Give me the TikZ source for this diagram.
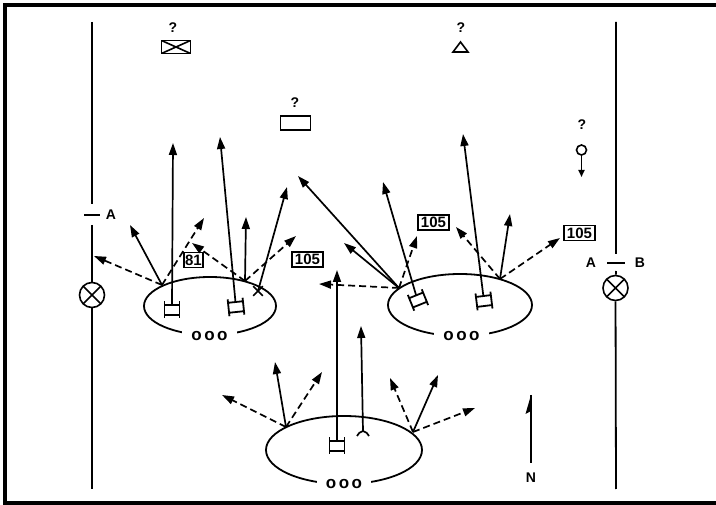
\documentclass[tikz,border=0pt]{standalone}
\usepackage{fontspec}
\setsansfont{Liberation Sans}
\usepackage{tikz}
\usetikzlibrary{calc,shapes,arrows.meta}
\tikzset{fire/.style={line width=1.7pt, -{Triangle[length=12pt,width=8pt]}},
firedash/.style={fire, dash pattern=on 7pt off 4pt},
lbl/.style={font=\sffamily\bfseries\fontsize{14}{14}\selectfont, inner sep=0pt},
calbox/.style={draw, line width=1.4pt, font=\sffamily\bfseries\fontsize{15}{15}\selectfont, inner sep=0pt, minimum height=15pt},
ooo/.style={fill=white, inner xsep=9pt, inner ysep=1pt, font=\sffamily\bfseries\fontsize{17}{17}\selectfont},
crossbox/.style={draw, line width=1.6pt, inner sep=0pt, path picture={\draw[line width=1.6pt] (path picture bounding box.north west) -- (path picture bounding box.south east) (path picture bounding box.south west) -- (path picture bounding box.north east);}},
xcircle/.style={circle, crossbox, minimum size=25pt},
tank/.pic={\draw[line width=1.8pt] (-7.5,-8.5) -- (-7.5,8.5) (7.5,-8.5) -- (7.5,8.5) (-7.5,-5) -- (7.5,-5) (-7.5,5) -- (7.5,5);
  \coordinate (-top) at (0,-5);},
fork/.pic={\draw[line width=1.7pt] (-6,5) to[bend left=25] (0,0) to[bend left=25] (6,5);
  \coordinate (-top) at (0,0);}}
\begin{document}
\begin{tikzpicture}[x=1pt,y=-1pt]
        \useasboundingbox (0,0) rectangle (716,505);
        \fill[white] (0,0) rectangle (716,505);
        \draw[line width=3.5pt] (716,5) -- (5,5) -- (5,503) -- (716,503);
        % phase lines
        \node[xcircle] (cpa) at (92,295) {};
        \node[xcircle] (cpb) at (615.5,288) {};
        \coordinate (la1) at (92,22); \coordinate (la2) at (92,204);
        \coordinate (la3) at (92,225); \coordinate (la4) at (92,489);
        \draw[line width=1.8pt] (la1) -- (la2) (la3) -- (cpa) (cpa) -- (la4);
        \draw[line width=1.8pt] (84,215) -- (100,215);
        \node[lbl] (plA) at (111,215) {A};
        \coordinate (lb1) at (616,22); \coordinate (lb2) at (616,254);
        \coordinate (lb3) at (616,271); \coordinate (lb4) at (616,489);
        \draw[line width=1.8pt] (lb1) -- (lb2) (lb3) -- (cpb) (cpb) -- (lb4);
        \draw[line width=1.8pt] (607,263) -- (625,263);
        \node[lbl] (plA2) at (591,263) {A};
        \node[lbl] (plB) at (640,263) {B};
        % suspected targets
        \node[lbl] (q1) at (173,28) {?};
        \node[crossbox, minimum width=29pt, minimum height=13pt] (hq) at (176,47) {};
        \node[lbl] (q2) at (295,103) {?};
        \node[draw, line width=1.6pt, minimum width=30pt, minimum height=14pt] (unit) at (295.5,123) {};
        \node[lbl] (q3) at (461,28) {?};
        \draw[line width=1.6pt] (453,52) -- (468,52) -- (460.5,42) -- cycle;
        \node[lbl] (q4) at (582,125) {?};
        \node[draw, circle, line width=1.6pt, minimum size=10pt, inner sep=0pt] (pin) at (581.5,150) {};
        \coordinate (pint) at (581.5,177);
        \draw[line width=1.6pt, -{Triangle[length=7pt,width=6pt]}] (pin) -- (pint);
        % left position
        \node[draw, ellipse, line width=1.8pt, minimum width=132pt, minimum height=58pt] (le) at (210,306) {};
        \node[ooo] (lo) at (209.5,336) {o\kern2.5pt o\kern2.5pt o};
        \coordinate (l1) at (162,285); \coordinate (l2) at (245,281);
        \coordinate (l1a) at (94,256); \coordinate (l1b) at (130,225); \coordinate (l1c) at (204,218);
        \coordinate (l2a) at (192,243); \coordinate (l2b) at (246,217); \coordinate (l2c) at (296,236);
        \draw[firedash] (l1) -- (l1a);
        \draw[fire] (l1) -- (l1b);
        \draw[firedash] (l1) -- (l1c);
        \draw[firedash] (l2) -- (l2a);
        \draw[fire] (l2) -- (l2b);
        \draw[firedash] (l2) -- (l2c);
        \pic (ta) at (172,310) {tank};
        \pic[rotate=6] (tb) at (236,307) {tank};
        \coordinate (tat) at (173,143); \coordinate (tbt) at (220,137);
        \draw[fire] (ta-top) -- (tat);
        \draw[fire] (tb-top) -- (tbt);
        \node[cross out, draw, line width=1.6pt, minimum size=8pt, inner sep=0pt] (lx) at (258,291) {};
        \coordinate (lxt) at (287,187);
        \draw[fire] (lx.center) -- (lxt);
        \node[calbox, minimum width=19pt] (c81) at (193.5,260) {81};
        \node[calbox, minimum width=31pt] (c105a) at (307.5,259.5) {105};
        % right position
        \node[draw, ellipse, line width=1.8pt, minimum width=144pt, minimum height=62pt] (re) at (460,305) {};
        \node[ooo] (ro) at (461.5,336) {o\kern2.5pt o\kern2.5pt o};
        \coordinate (r1) at (399,288); \coordinate (r2) at (500,279);
        \coordinate (r1a) at (298,176); \coordinate (r1b) at (344,243);
        \coordinate (r1c) at (319,284); \coordinate (r1d) at (417,236);
        \coordinate (r2a) at (456,227); \coordinate (r2b) at (510,214); \coordinate (r2c) at (560,238);
        \draw[fire] (r1) -- (r1a);
        \draw[fire] (r1) -- (r1b);
        \draw[firedash] (r1) -- (r1c);
        \draw[firedash] (r1) -- (r1d);
        \draw[firedash] (r2) -- (r2a);
        \draw[fire] (r2) -- (r2b);
        \draw[firedash] (r2) -- (r2c);
        \pic[rotate=22] (tc) at (418,300) {tank};
        \pic[rotate=7] (td) at (484,301) {tank};
        \coordinate (tct) at (383,182); \coordinate (tdt) at (463,134);
        \draw[fire] (tc-top) -- (tct);
        \draw[fire] (td-top) -- (tdt);
        \node[calbox, minimum width=31pt] (c105b) at (433.5,222.5) {105};
        \node[calbox, minimum width=31pt] (c105c) at (579.5,233) {105};
        % reserve position
        \node[draw, ellipse, line width=1.8pt, minimum width=156pt, minimum height=68pt] (be) at (344,450) {};
        \node[ooo] (bo) at (344,484) {o\kern2.5pt o\kern2.5pt o};
        \coordinate (b1) at (286,427); \coordinate (b2) at (413,432);
        \coordinate (b1a) at (222,395); \coordinate (b1b) at (275,362); \coordinate (b1c) at (322,372);
        \coordinate (b2a) at (390,378); \coordinate (b2b) at (438,375); \coordinate (b2c) at (475,408);
        \draw[firedash] (b1) -- (b1a);
        \draw[fire] (b1) -- (b1b);
        \draw[firedash] (b1) -- (b1c);
        \draw[firedash] (b2) -- (b2a);
        \draw[fire] (b2) -- (b2b);
        \draw[firedash] (b2) -- (b2c);
        \pic (te) at (337,446) {tank};
        \pic (fk) at (363,431) {fork};
        \coordinate (tet) at (337,270); \coordinate (fkt) at (361,326);
        \draw[fire] (te-top) -- (tet);
        \draw[fire] (fk-top) -- (fkt);
        % north
        \coordinate (ns) at (531,463); \coordinate (nn) at (531,395);
        \draw[line width=1.8pt] (ns) -- (nn);
        \fill (nn) -- (525.5,414) -- (531,411) -- cycle;
        \node[lbl] (north) at (531,478) {N};
\end{tikzpicture}
\end{document}
